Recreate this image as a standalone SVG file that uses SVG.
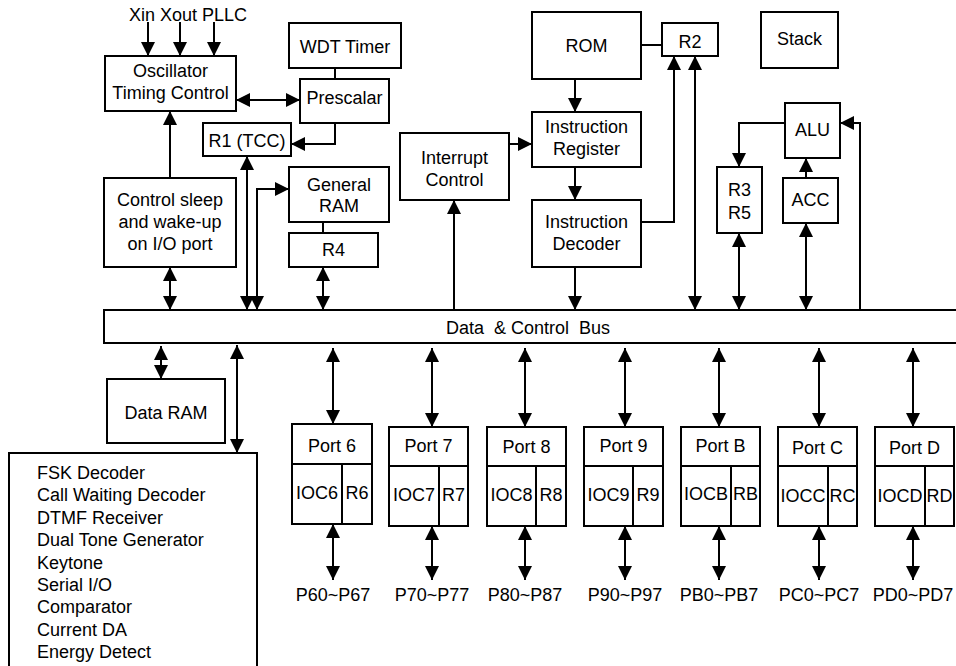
<svg xmlns="http://www.w3.org/2000/svg" width="956" height="666" viewBox="0 0 956 666">
<style>
rect{fill:#fff;stroke:#000;stroke-width:2}
text{font-family:"Liberation Sans",Arial,sans-serif;font-size:18px;fill:#000;text-anchor:middle}
.l{text-anchor:start}
.c line,.c path{fill:none;stroke:#000;stroke-width:2}
.d{marker-start:url(#ah);marker-end:url(#ah)}
.e{marker-end:url(#ah)}
</style>
<defs>
<marker id="ah" markerUnits="userSpaceOnUse" markerWidth="14" markerHeight="14" refX="14" refY="7" orient="auto-start-reverse">
<path d="M0,0 L14,7 L0,14 z" fill="#000"/>
</marker>
</defs>
<rect x="0" y="0" width="956" height="666" style="stroke:none"/>

<g id="inputs"><text class="l" x="129" y="21">Xin Xout PLLC</text></g>
<g id="osc"><rect x="105" y="56" width="131" height="55"/><text x="170.5" y="77">Oscillator</text><text x="170.5" y="99">Timing Control</text></g>
<g id="wdt"><rect x="289" y="23" width="112" height="45"/><text x="345" y="53">WDT Timer</text></g>
<g id="prescalar"><rect x="300" y="79" width="89" height="44"/><text x="344.5" y="104">Prescalar</text></g>
<g id="r1"><rect x="203" y="123" width="88" height="33"/><text x="247" y="147">R1 (TCC)</text></g>
<g id="sleep"><rect x="104" y="178" width="132" height="89"/><text x="170" y="206">Control sleep</text><text x="170" y="228">and wake-up</text><text x="170" y="250">on I/O port</text></g>
<g id="gram"><rect x="289" y="167" width="100" height="55"/><text x="339" y="191">General</text><text x="339" y="212">RAM</text></g>
<g id="r4"><rect x="289" y="233" width="89" height="34"/><text x="333.5" y="256">R4</text></g>
<g id="interrupt"><rect x="400" y="133" width="109" height="67"/><text x="454.5" y="164">Interrupt</text><text x="454.5" y="186">Control</text></g>
<g id="rom"><rect x="532" y="12" width="109" height="67"/><text x="586.5" y="52">ROM</text></g>
<g id="r2"><rect x="662" y="23" width="56" height="33"/><text x="690" y="48">R2</text></g>
<g id="ireg"><rect x="532" y="112" width="109" height="55"/><text x="586.5" y="133">Instruction</text><text x="586.5" y="155">Register</text></g>
<g id="idec"><rect x="532" y="200" width="109" height="67"/><text x="586.5" y="228">Instruction</text><text x="586.5" y="250">Decoder</text></g>
<g id="stack"><rect x="761" y="12" width="77" height="56"/><text x="799.5" y="45">Stack</text></g>
<g id="alu"><rect x="785" y="103" width="55" height="55"/><text x="812.5" y="136">ALU</text></g>
<g id="r3r5"><rect x="717" y="167" width="45" height="66"/><text x="739.5" y="196">R3</text><text x="739.5" y="219">R5</text></g>
<g id="acc"><rect x="783" y="178" width="55" height="45"/><text x="810.5" y="206">ACC</text></g>
<g id="bus"><rect x="104" y="310" width="870" height="33"/><text x="528" y="334" xml:space="preserve">Data  &amp; Control  Bus</text></g>
<g id="dataram"><rect x="107" y="379" width="118" height="64"/><text x="166" y="419">Data RAM</text></g>
<g id="periph"><rect x="9" y="453" width="248" height="230"/>
<text class="l" x="37" y="479">FSK Decoder</text>
<text class="l" x="37" y="501.4">Call Waiting Decoder</text>
<text class="l" x="37" y="523.8">DTMF Receiver</text>
<text class="l" x="37" y="546.2">Dual Tone Generator</text>
<text class="l" x="37" y="568.6">Keytone</text>
<text class="l" x="37" y="591">Serial I/O</text>
<text class="l" x="37" y="613.4">Comparator</text>
<text class="l" x="37" y="635.8">Current DA</text>
<text class="l" x="37" y="658.2">Energy Detect</text>
</g>

<g id="port6"><rect x="292" y="424" width="80" height="100"/><line x1="292" y1="464" x2="372" y2="464" stroke="#000" stroke-width="2"/><line x1="342" y1="464" x2="342" y2="524" stroke="#000" stroke-width="2"/><text x="332" y="452">Port 6</text><text x="317" y="499">IOC6</text><text x="357" y="499">R6</text><text x="333" y="601">P60~P67</text></g>
<g id="port7"><rect x="389" y="427" width="79" height="99"/><line x1="389" y1="466" x2="468" y2="466" stroke="#000" stroke-width="2"/><line x1="439" y1="466" x2="439" y2="526" stroke="#000" stroke-width="2"/><text x="428.5" y="452">Port 7</text><text x="414" y="501">IOC7</text><text x="453.5" y="501">R7</text><text x="432" y="601">P70~P77</text></g>
<g id="port8"><rect x="487" y="427" width="79" height="99"/><line x1="487" y1="466" x2="566" y2="466" stroke="#000" stroke-width="2"/><line x1="536" y1="466" x2="536" y2="526" stroke="#000" stroke-width="2"/><text x="526.5" y="453">Port 8</text><text x="511.5" y="501">IOC8</text><text x="551" y="501">R8</text><text x="525" y="601">P80~P87</text></g>
<g id="port9"><rect x="584" y="427" width="79" height="99"/><line x1="584" y1="466" x2="663" y2="466" stroke="#000" stroke-width="2"/><line x1="633" y1="466" x2="633" y2="526" stroke="#000" stroke-width="2"/><text x="623.5" y="452">Port 9</text><text x="608.5" y="501">IOC9</text><text x="648" y="501">R9</text><text x="625" y="601">P90~P97</text></g>
<g id="portB"><rect x="681" y="427" width="79" height="99"/><line x1="681" y1="466" x2="760" y2="466" stroke="#000" stroke-width="2"/><line x1="731" y1="466" x2="731" y2="526" stroke="#000" stroke-width="2"/><text x="720.5" y="452">Port B</text><text x="706" y="500">IOCB</text><text x="745.5" y="500">RB</text><text x="719" y="601">PB0~PB7</text></g>
<g id="portC"><rect x="778" y="427" width="79" height="99"/><line x1="778" y1="466" x2="857" y2="466" stroke="#000" stroke-width="2"/><line x1="828" y1="466" x2="828" y2="526" stroke="#000" stroke-width="2"/><text x="817.5" y="454">Port C</text><text x="803" y="502">IOCC</text><text x="842.5" y="502">RC</text><text x="819" y="601">PC0~PC7</text></g>
<g id="portD"><rect x="875" y="427" width="79" height="99"/><line x1="875" y1="466" x2="954" y2="466" stroke="#000" stroke-width="2"/><line x1="925" y1="466" x2="925" y2="526" stroke="#000" stroke-width="2"/><text x="914.5" y="454">Port D</text><text x="900" y="502">IOCD</text><text x="939.5" y="502">RD</text><text x="913" y="601">PD0~PD7</text></g>

<g id="connectors" class="c">
<line class="e" x1="148" y1="22" x2="148" y2="56"/>
<line class="e" x1="180" y1="22" x2="180" y2="56"/>
<line class="e" x1="214" y1="22" x2="214" y2="56"/>
<line class="d" x1="236" y1="100" x2="300" y2="100"/>
<line x1="335" y1="68" x2="335" y2="79"/>
<path class="e" d="M335,123 L335,144 L291,144"/>
<line class="e" x1="170" y1="178" x2="170" y2="111"/>
<line class="d" x1="170" y1="267" x2="170" y2="310"/>
<line class="d" x1="247" y1="156" x2="247" y2="310"/>
<path class="d" d="M257,310 L257,189 L289,189"/>
<line x1="323" y1="222" x2="323" y2="233"/>
<line class="d" x1="323" y1="267" x2="323" y2="310"/>
<line class="e" x1="454" y1="310" x2="454" y2="200"/>
<line class="e" x1="509" y1="144" x2="532" y2="144"/>
<line class="e" x1="575" y1="79" x2="575" y2="112"/>
<line class="e" x1="575" y1="167" x2="575" y2="200"/>
<line class="e" x1="575" y1="267" x2="575" y2="310"/>
<line x1="641" y1="45" x2="662" y2="45"/>
<path class="e" d="M641,222 L674,222 L674,56"/>
<line class="d" x1="695" y1="310" x2="695" y2="56"/>
<path class="e" d="M785,123 L739,123 L739,167"/>
<path class="e" d="M860,310 L860,123 L840,123"/>
<line class="e" x1="806" y1="178" x2="806" y2="158"/>
<line class="d" x1="739" y1="233" x2="739" y2="310"/>
<line class="d" x1="806" y1="223" x2="806" y2="310"/>
<line class="d" x1="161" y1="346" x2="161" y2="379"/>
<line class="d" x1="237" y1="345" x2="237" y2="453"/>
<line class="d" x1="333" y1="348" x2="333" y2="424"/>
<line class="d" x1="432" y1="348" x2="432" y2="427"/>
<line class="d" x1="525" y1="348" x2="525" y2="427"/>
<line class="d" x1="625" y1="348" x2="625" y2="427"/>
<line class="d" x1="719" y1="348" x2="719" y2="427"/>
<line class="d" x1="819" y1="348" x2="819" y2="427"/>
<line class="d" x1="913" y1="348" x2="913" y2="427"/>
<line class="d" x1="333" y1="524" x2="333" y2="580"/>
<line class="d" x1="432" y1="526" x2="432" y2="580"/>
<line class="d" x1="525" y1="526" x2="525" y2="580"/>
<line class="d" x1="625" y1="526" x2="625" y2="580"/>
<line class="d" x1="719" y1="526" x2="719" y2="580"/>
<line class="d" x1="819" y1="526" x2="819" y2="580"/>
<line class="d" x1="913" y1="526" x2="913" y2="580"/>
</g>
</svg>
